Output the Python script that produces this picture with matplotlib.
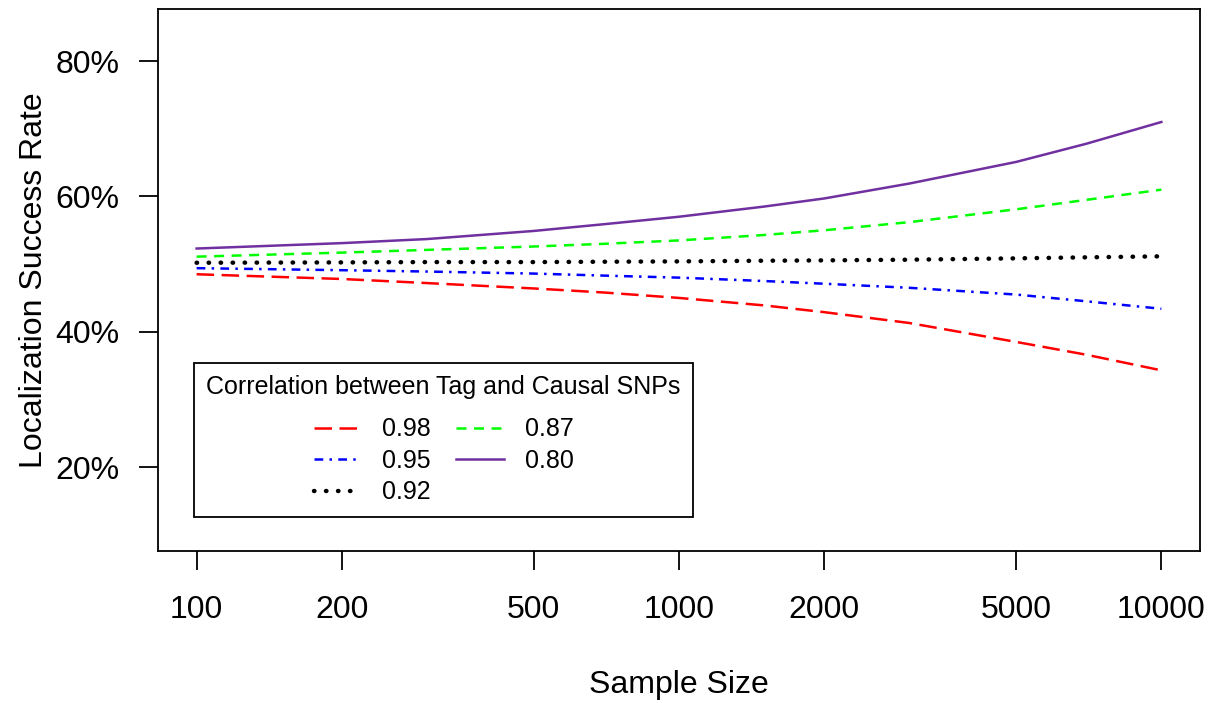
import matplotlib

matplotlib.use("Agg")
import matplotlib.pyplot as plt
from matplotlib.ticker import FixedLocator, FuncFormatter, NullLocator

plt.rcParams["font.family"] = ["Liberation Sans", "DejaVu Sans"]

sample_sizes = [100, 200, 300, 500, 700, 1000, 1500, 2000, 3000, 5000, 7000, 10000]

# localization success rate (%) per tag/causal correlation
rate_098 = [48.5, 47.8, 47.2, 46.4, 45.8, 45.0, 43.9, 42.9, 41.3, 38.5, 36.6, 34.3]
rate_095 = [49.4, 49.1, 48.9, 48.6, 48.3, 48.0, 47.5, 47.1, 46.5, 45.5, 44.5, 43.4]
rate_092 = [50.2, 50.25, 50.3, 50.3, 50.35, 50.4, 50.5, 50.55, 50.65, 50.85, 51.0, 51.15]
rate_087 = [51.1, 51.7, 52.1, 52.6, 53.0, 53.5, 54.3, 55.0, 56.2, 58.1, 59.5, 61.0]
rate_080 = [52.3, 53.1, 53.7, 54.9, 55.9, 57.0, 58.5, 59.7, 61.9, 65.1, 67.8, 71.0]

series_labels = ["0.98", "0.95", "0.92", "0.87", "0.80"]
series_values = [rate_098, rate_095, rate_092, rate_087, rate_080]
series_colors = ["#FF0000", "#0000FF", "#000000", "#00FF00", "#7030A0"]
series_dashes = [(7, 3), (3.5, 2.5, 1, 2.5), (0.1, 2.6), (4, 3), None]

x_ticks = [100, 200, 500, 1000, 2000, 5000, 10000]
y_ticks = [20, 40, 60, 80]


def main():
    fig = plt.figure(figsize=(12.1, 7.03), dpi=100)
    ax = fig.add_axes([0.1306, 0.2162, 0.8611, 0.771])

    handles = []
    for label, vals, color, dash in zip(series_labels, series_values, series_colors, series_dashes):
        if dash is None:
            (ln,) = ax.plot(sample_sizes, vals, color=color, lw=1.8, label=label)
        elif dash[0] < 0.5:
            # dotted line with round dots
            (ln,) = ax.plot(sample_sizes, vals, color=color, lw=3.2, label=label,
                            dashes=dash, dash_capstyle="round")
        else:
            (ln,) = ax.plot(sample_sizes, vals, color=color, lw=1.8, label=label,
                            dashes=dash)
        handles.append(ln)

    ax.set_xscale("log")
    ax.set_xlim(10 ** 1.92, 10 ** 4.08)
    ax.set_ylim(7.6, 87.7)

    ax.xaxis.set_major_locator(FixedLocator(x_ticks))
    ax.xaxis.set_minor_locator(NullLocator())
    ax.xaxis.set_major_formatter(FuncFormatter(lambda v, p: f"{int(round(v))}"))
    ax.yaxis.set_major_locator(FixedLocator(y_ticks))
    ax.yaxis.set_major_formatter(FuncFormatter(lambda v, p: f"{int(v)}%"))

    ax.tick_params(axis="both", direction="out", length=14, width=1.3,
                   labelsize=23, color="black")
    ax.tick_params(axis="x", pad=18)
    ax.tick_params(axis="y", pad=14)
    for sp in ax.spines.values():
        sp.set_linewidth(1.3)

    ax.set_xlabel("Sample Size", fontsize=23, labelpad=32)
    ax.set_ylabel("Localization Success Rate", fontsize=23, labelpad=4)

    leg = ax.legend(handles=handles, ncol=2, loc="upper left",
                    bbox_to_anchor=(0.0345, 0.347), borderaxespad=0,
                    title="Correlation between Tag and Causal SNPs",
                    fontsize=18, title_fontsize=18, frameon=True, fancybox=False,
                    framealpha=1.0, edgecolor="black", handlelength=1.9,
                    handletextpad=0.85, columnspacing=1.0, labelspacing=0.3,
                    borderpad=0.5)
    leg.get_frame().set_linewidth(1.3)
    leg._legend_box.sep = 13

    fig.savefig("out.png", dpi=100)


if __name__ == "__main__":
    main()
